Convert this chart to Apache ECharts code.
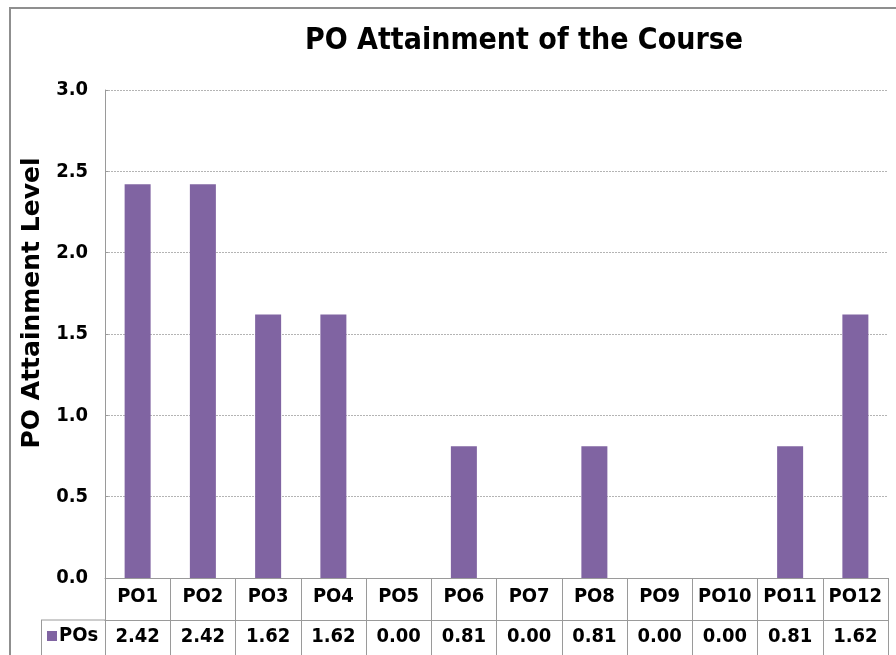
<!DOCTYPE html>
<html>
<head>
<meta charset="utf-8">
<script src="https://cdn.jsdelivr.net/npm/echarts@6/dist/echarts.min.js"></script>
<style>
  html, body { margin: 0; padding: 0; background: #fff; }
  #main { width: 896px; height: 655px; }
</style>
</head>
<body>
<div id="main"></div>
<script>
// PO attainment data
var categories = ['PO1', 'PO2', 'PO3', 'PO4', 'PO5', 'PO6', 'PO7', 'PO8', 'PO9', 'PO10', 'PO11', 'PO12'];
var poValues = [2.42, 2.42, 1.62, 1.62, 0.00, 0.81, 0.00, 0.81, 0.00, 0.00, 0.81, 1.62];
var yTicks = [0, 0.5, 1.0, 1.5, 2.0, 2.5, 3.0];
var seriesName = 'POs';

var font = '"DejaVu Sans Condensed", "DejaVu Sans", sans-serif';
var wideFont = '"DejaVu Sans", sans-serif';
var lineGray = '#9a9a9a';

var myChart = echarts.init(document.getElementById('main'));

var option = {
    backgroundColor: '#fff',
    animation: false,
    title: {
        text: 'PO Attainment of the Course',
        left: 519,
        textAlign: 'center',
        top: 21,
        textStyle: { fontFamily: font, fontWeight: 'bold', fontSize: 30, color: '#000' }
    },
    legend: {
        data: [seriesName],
        left: 42,
        top: 621,
        icon: 'rect',
        itemWidth: 10,
        itemHeight: 10,
        textStyle: { fontFamily: font, fontWeight: 'bold', fontSize: 20, color: '#000', padding: [0, 0, 0, -3] }
    },
    grid: { left: 105, right: 8, top: 90, bottom: 77, containLabel: false },
    xAxis: [
        {
            type: 'category',
            data: categories,
            position: 'bottom',
            axisLine: { show: true, lineStyle: { color: lineGray, width: 1 } },
            axisTick: { show: true, interval: 0, inside: false, length: 80, lineStyle: { color: lineGray } },
            axisLabel: { interval: 0, margin: 9, fontFamily: font, fontWeight: 'bold', fontSize: 20, color: '#000' }
        },
        {
            type: 'category',
            data: poValues.map(function (v) { return v.toFixed(2); }),
            position: 'bottom',
            offset: 42,
            axisLine: { show: true, lineStyle: { color: lineGray, width: 1 } },
            axisTick: { show: false },
            axisLabel: { interval: 0, margin: 7, fontFamily: font, fontWeight: 'bold', fontSize: 20, color: '#000' }
        }
    ],
    yAxis: {
        type: 'value',
        min: yTicks[0],
        max: yTicks[yTicks.length - 1],
        interval: 0.5,
        name: 'PO Attainment Level',
        nameLocation: 'middle',
        nameGap: 53,
        nameTextStyle: { fontFamily: wideFont, fontWeight: 'bold', fontSize: 25, color: '#000', padding: [0, 0, 0, 62] },
        axisLine: { show: true, lineStyle: { color: lineGray, width: 1 } },
        axisTick: { show: true, inside: true, length: 3, lineStyle: { color: lineGray } },
        axisLabel: {
            margin: 17,
            fontFamily: font, fontWeight: 'bold', fontSize: 20, color: '#000',
            formatter: function (v) { return v.toFixed(1); }
        },
        splitLine: { show: true, lineStyle: { color: '#b4b4b4', type: [2, 1], width: 1 } }
    },
    series: [{
        name: seriesName,
        type: 'bar',
        xAxisIndex: 0,
        data: poValues,
        barWidth: 26,
        itemStyle: { color: '#8064A2', borderWidth: 0 }
    }],
    graphic: [
        // outer chart frame
        { type: 'rect', shape: { x: 10, y: 8, width: 900, height: 700 }, style: { fill: 'none', stroke: '#8f8f8f', lineWidth: 2 }, silent: true },
        // legend cell of the data table
        { type: 'line', shape: { x1: 41, y1: 620, x2: 105, y2: 620 }, style: { stroke: lineGray, lineWidth: 1 }, silent: true },
        { type: 'line', shape: { x1: 41.5, y1: 620, x2: 41.5, y2: 660 }, style: { stroke: lineGray, lineWidth: 1 }, silent: true }
    ]
};

myChart.setOption(option);
</script>
</body>
</html>
